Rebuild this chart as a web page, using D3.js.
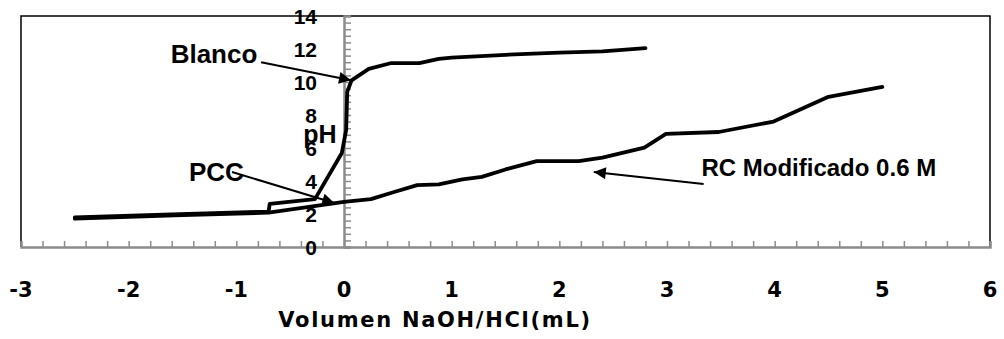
<!DOCTYPE html>
<html>
<head>
<meta charset="utf-8">
<script src="https://cdn.jsdelivr.net/npm/d3@7"></script>
<style>
    body { margin: 0; background: #fff; }
    svg { display: block; }
</style>
</head>
<body>
<div id="app"></div>
<script>
// pH titration curves
const blancoX = [-2.5, -1.6, -0.7, -0.69, -0.27, -0.02, 0.02, 0.03, 0.07, 0.23, 0.44, 0.7, 0.88, 1.0, 1.5, 2.0, 2.4, 2.8];
const blancoY = [1.8, 1.98, 2.15, 2.62, 2.9, 5.7, 7.1, 9.4, 10.1, 10.8, 11.15, 11.15, 11.4, 11.48, 11.65, 11.78, 11.85, 12.05];

const rcX = [-2.5, -1.5, -0.7, 0, 0.25, 0.45, 0.68, 0.88, 1.1, 1.28, 1.5, 1.79, 2.18, 2.4, 2.79, 2.99, 3.48, 3.99, 4.5, 5.0];
const rcY = [1.72, 1.93, 2.08, 2.73, 2.9, 3.3, 3.75, 3.8, 4.1, 4.25, 4.7, 5.2, 5.2, 5.42, 6.02, 6.85, 6.97, 7.6, 9.1, 9.7];

const xTicks = [-3, -2, -1, 0, 1, 2, 3, 4, 5, 6];
const yTicks = [0, 2, 4, 6, 8, 10, 12, 14];

// annotations: text, where the text starts, where the arrow goes (data units)
const noteText   = ["Blanco", "PCC", "RC Modificado 0.6 M"];
const noteSize   = [26, 26, 24];
const noteTextX  = [-1.61, -1.44, 3.32];
const noteTextY  = [11.15, 4.0, 4.3];
const noteFromX  = [-0.77, -1.04, 3.34];
const noteFromY  = [11.2, 4.55, 3.82];
const noteToX    = [0.065, -0.09, 2.32];
const noteToY    = [10.1, 2.67, 4.55];

const W = 1004, H = 339;
const m = { t: 16, r: 14, b: 92, l: 21 };

const svg = d3.select("#app")
                .append("svg")
                .attr("width", W)
                .attr("height", H);

const xScale = d3.scaleLinear()
                    .domain([-3, 6])
                    .range([m.l, W - m.r]);

const yScale = d3.scaleLinear()
                    .domain([0, 14])
                    .range([H - m.b, m.t]);

const arialBold = "'Liberation Sans', Arial, sans-serif";
const wideBold = "'DejaVu Sans', sans-serif";

// frame: left, top, right in black
svg.append("path")
    .attr("d", "M" + m.l + "," + (H - m.b) + "V" + m.t + "H" + (W - m.r) + "V" + (H - m.b))
    .attr("fill", "none")
    .attr("stroke", "#000")
    .attr("stroke-width", 1.5);

// minor ticks only, labels done separately
const xMinor = d3.range(-3, 6.001, 0.2);
const yMinor = d3.range(0, 14.001, 0.4);

svg.append("g")
    .attr("class", "x-axis")
    .attr("transform", "translate(0," + yScale(0) + ")")
    .call(d3.axisTop(xScale).tickValues(xMinor).tickSize(6).tickFormat(""))
    .call(g => g.select(".domain").attr("stroke", "#8c8c8c").attr("stroke-width", 2.5))
    .call(g => g.selectAll(".tick line").attr("stroke", "#8c8c8c").attr("stroke-width", 1.5));

svg.append("g")
    .attr("class", "y-axis")
    .attr("transform", "translate(" + xScale(0) + ",0)")
    .call(d3.axisRight(yScale).tickValues(yMinor).tickSize(7).tickFormat(""))
    .call(g => g.select(".domain").attr("stroke", "#8c8c8c").attr("stroke-width", 2.5))
    .call(g => g.selectAll(".tick line").attr("stroke", "#8c8c8c").attr("stroke-width", 1.5));

// tick labels
svg.append("g")
    .selectAll("text")
    .data(yTicks).enter()
    .append("text")
        .attr("x", xScale(0) - 27)
        .attr("y", d => yScale(d))
        .attr("dy", "0.36em")
        .attr("text-anchor", "end")
        .style("font-family", arialBold)
        .style("font-weight", "bold")
        .style("font-size", "21px")
        .text(d => d);

svg.append("g")
    .selectAll("text")
    .data(xTicks).enter()
    .append("text")
        .attr("x", d => xScale(d))
        .attr("y", yScale(0) + 50)
        .attr("text-anchor", "middle")
        .style("font-family", wideBold)
        .style("font-weight", "bold")
        .style("font-size", "21px")
        .text(d => d);

// axis titles
svg.append("text")
    .attr("x", 435)
    .attr("y", 327)
    .attr("text-anchor", "middle")
    .style("font-family", wideBold)
    .style("font-weight", "bold")
    .style("font-size", "21px")
    .style("letter-spacing", "1.7px")
    .text("Volumen NaOH/HCl(mL)");

svg.append("text")
    .attr("x", 320)
    .attr("y", 143)
    .attr("text-anchor", "middle")
    .style("font-family", arialBold)
    .style("font-weight", "bold")
    .style("font-size", "25px")
    .text("pH");

// curves
const line = d3.line()
                .x(d => xScale(d[0]))
                .y(d => yScale(d[1]));

const series = [
    d3.zip(rcX, rcY),
    d3.zip(blancoX, blancoY)
];

svg.append("g")
    .selectAll("path")
    .data(series).enter()
    .append("path")
        .attr("d", line)
        .attr("fill", "none")
        .attr("stroke", "#000")
        .attr("stroke-width", 3.8)
        .attr("stroke-linejoin", "round")
        .attr("stroke-linecap", "round");

// arrows + labels
svg.append("defs")
    .append("marker")
        .attr("id", "head")
        .attr("viewBox", "0 0 10 10")
        .attr("refX", 10)
        .attr("refY", 5)
        .attr("markerWidth", 16)
        .attr("markerHeight", 12)
        .attr("markerUnits", "userSpaceOnUse")
        .attr("orient", "auto")
    .append("path")
        .attr("d", "M0,0L10,5L0,10Z")
        .attr("fill", "#000");

const notes = d3.range(noteText.length);

svg.append("g")
    .selectAll("line")
    .data(notes).enter()
    .append("line")
        .attr("x1", i => xScale(noteFromX[i]))
        .attr("y1", i => yScale(noteFromY[i]))
        .attr("x2", i => xScale(noteToX[i]))
        .attr("y2", i => yScale(noteToY[i]))
        .attr("stroke", "#000")
        .attr("stroke-width", 2)
        .attr("marker-end", "url(#head)");

svg.append("g")
    .selectAll("text")
    .data(notes).enter()
    .append("text")
        .attr("x", i => xScale(noteTextX[i]))
        .attr("y", i => yScale(noteTextY[i]))
        .style("font-family", arialBold)
        .style("font-weight", "bold")
        .style("font-size", i => noteSize[i] + "px")
        .text(i => noteText[i]);
</script>
</body>
</html>
